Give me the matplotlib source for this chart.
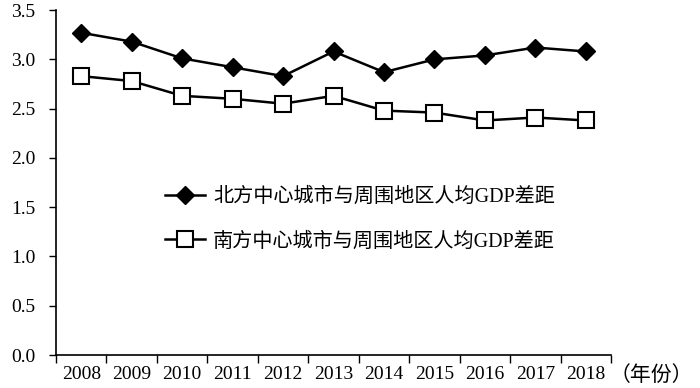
import numpy as np
import matplotlib
matplotlib.use("Agg")
import matplotlib.pyplot as plt

plt.rcParams['font.family'] = ['Liberation Serif', 'Noto Sans CJK SC']

# datos
anios = ['2008', '2009', '2010', '2011', '2012', '2013', '2014', '2015', '2016', '2017', '2018']
norte = [3.27, 3.18, 3.01, 2.92, 2.83, 3.08, 2.87, 3.00, 3.04, 3.12, 3.08]
sur = [2.83, 2.78, 2.63, 2.60, 2.55, 2.63, 2.48, 2.46, 2.38, 2.41, 2.38]
etiqueta_norte = '北方中心城市与周围地区人均GDP差距'
etiqueta_sur = '南方中心城市与周围地区人均GDP差距'
yticks = [0.0, 0.5, 1.0, 1.5, 2.0, 2.5, 3.0, 3.5]

fig = plt.figure(figsize=(7, 3.88), dpi=100)
ax = fig.add_axes([0.08, 0.085, 0.793, 0.889])

x = np.arange(len(anios))
ax.plot(x, norte, color='black', lw=1.8, marker='D', ms=9, mfc='black', mec='black',
        label=etiqueta_norte)
ax.plot(x, sur, color='black', lw=1.8, marker='s', ms=11, mfc='white', mec='black',
        mew=1.5, label=etiqueta_sur)

ax.set_xlim(-0.5, len(anios) - 0.5)
ax.set_ylim(0, 3.5)
ax.set_yticks(yticks)
ax.set_yticklabels([f'{v:.1f}' for v in yticks], fontsize=14)

# ticks entre categorias
ax.set_xticks(x)
ax.set_xticklabels(anios, fontsize=14)
ax.tick_params(axis='x', which='major', length=0, pad=8)
ax.set_xticks(np.arange(-0.5, len(anios)), minor=True)
ax.tick_params(axis='x', which='minor', length=6, direction='out', width=1)
ax.tick_params(axis='y', length=5, width=1, pad=10)

for s in ['top', 'right']:
    ax.spines[s].set_visible(False)
for s in ['left', 'bottom']:
    ax.spines[s].set_linewidth(1.2)

ax.text(0.998, -0.058, '（年份）', transform=ax.transAxes, fontsize=15,
        ha='left', va='center', family=['Noto Sans CJK SC'])

leg = ax.legend(loc='upper left', bbox_to_anchor=(0.196, 0.485), frameon=False,
                handlelength=2.0, labelspacing=1.25, handletextpad=0.4,
                borderpad=0, borderaxespad=0,
                prop={'family': ['Liberation Serif', 'Noto Sans CJK SC'], 'size': 14.5})

fig.savefig('out.png', dpi=100)
